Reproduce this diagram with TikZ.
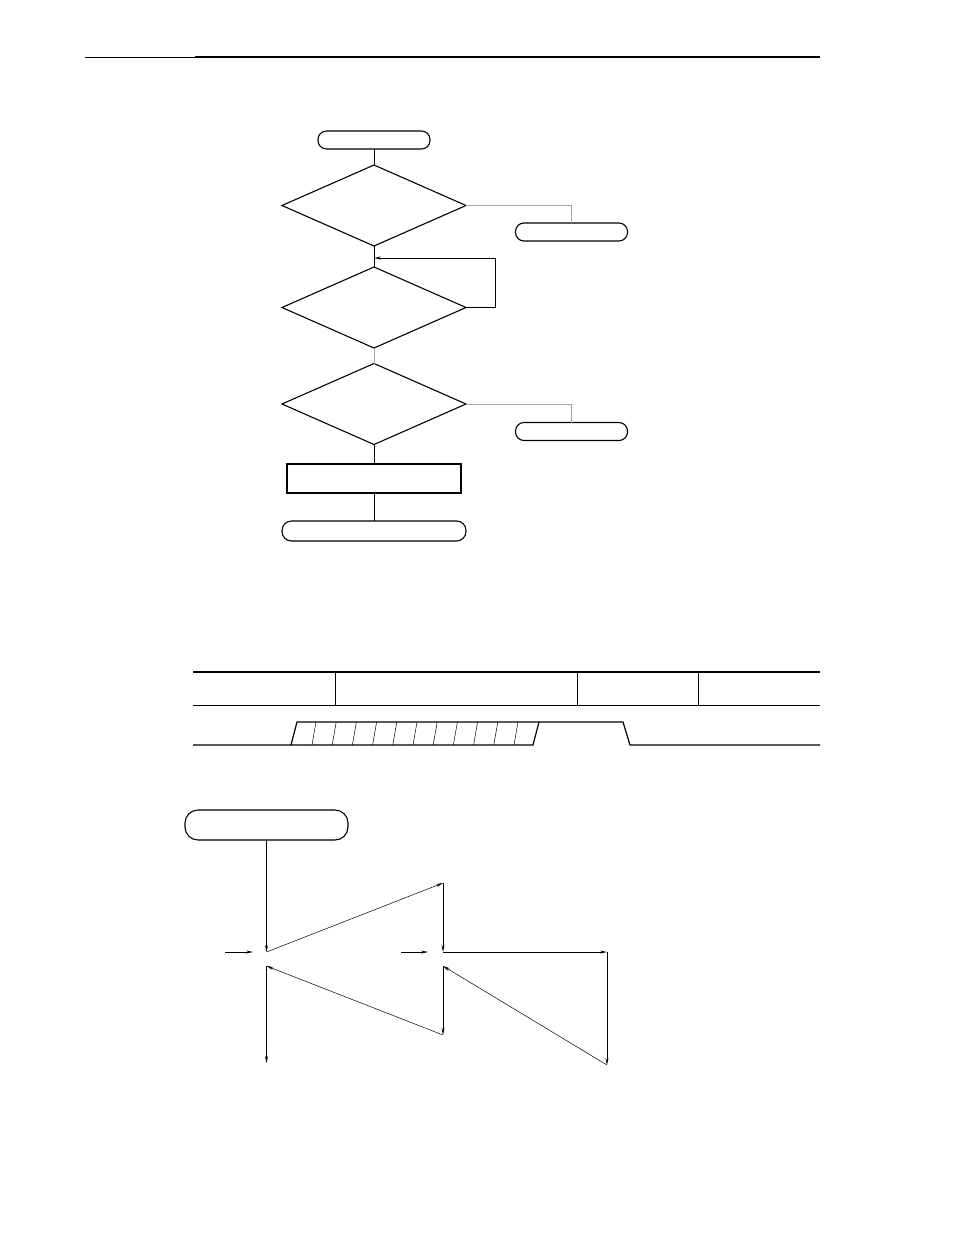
\documentclass[tikz,border=0pt]{standalone}
\usetikzlibrary{shapes.geometric, arrows.meta, positioning}

\begin{document}
\begin{tikzpicture}[x=1pt, y=-1pt,
        terminal/.style={rectangle, draw, line width=1.1pt, rounded corners=8.5pt, minimum width=112pt, minimum height=18pt, inner sep=0pt, outer sep=0pt},
        decision/.style={diamond, draw, line width=1.1pt, minimum width=184pt, minimum height=81pt, inner sep=0pt, outer sep=0pt},
        process/.style={rectangle, draw, line width=1.7pt, minimum width=174pt, minimum height=29pt, inner sep=0pt, outer sep=0pt},
        link/.style={line width=0.9pt},
        greylink/.style={line width=0.9pt, gray!70},
        arrow/.style={-{Stealth[length=7pt, width=3pt]}, line width=0.8pt},
        thinarrow/.style={-{Stealth[length=7pt, width=3pt]}, line width=0.5pt},
        rule/.style={line width=1.6pt},
        wave/.style={line width=1.2pt}
    ]
        \useasboundingbox (0,0) rectangle (954,1235);

        % Page rule
        \draw[line width=1pt] (85,57) -- (195,57);
        \draw[rule] (195,57) -- (820,57);

        % Flowchart blocks
        \node[terminal] (start) at (374,140) {};
        \node[decision] (check1) at (374,205.5) {};
        \node[terminal] (exit1) at (571.5,232) {};
        \node[decision] (check2) at (374,307.5) {};
        \node[decision] (check3) at (374,404) {};
        \node[terminal] (exit2) at (571.5,431.5) {};
        \node[process] (proc) at (374,478.5) {};
        \node[terminal, minimum width=184pt, minimum height=20pt, rounded corners=9.5pt] (done) at (374,531) {};

        % Loop points
        \coordinate (loop) at (495,258);
        \coordinate (back) at (374,258);

        % Flowchart connectors
        \draw[link] (start) -- (check1);
        \draw[greylink] (check1.east) -| (exit1.north);
        \draw[link] (check1.south) -- (check2.north);
        \draw[arrow] (check2.east) -| (loop) -- (back);
        \draw[greylink] (check2.south) -- (check3.north);
        \draw[greylink] (check3.east) -| (exit2.north);
        \draw[link] (check3.south) -- (proc.north);
        \draw[link] (proc.south) -- (done.north);

        % Timing frame
        \draw[rule] (193,672) -- (820,672);
        \draw[line width=0.8pt] (193,705) -- (820,705);
        \foreach \x in {335,577,698}
            \draw[line width=0.9pt] (\x,672) -- (\x,705);

        % Timing wave
        \draw[wave] (193,745) -- (291,745) -- (297,722) -- (623,722) -- (630,745) -- (820,745);
        \draw[wave] (291,745) -- (533,745) -- (539,722);
        \foreach \i in {0,...,10}
            \draw[line width=0.5pt] ({316+20.2*\i},722) -- ({312+20.2*\i},745);

        % Sequence diagram
        \node[terminal, minimum width=163pt, minimum height=30pt, rounded corners=13pt] (entry) at (266.5,825) {};

        \coordinate (a1) at (266.5,952);
        \coordinate (a2) at (266.5,966);
        \coordinate (a3) at (266.5,1063);
        \coordinate (b0) at (443,883);
        \coordinate (b1) at (443,952);
        \coordinate (b2) at (443,966);
        \coordinate (b3) at (443,1035);
        \coordinate (c1) at (607,952);
        \coordinate (c2) at (607,1065);
        \coordinate (in1) at (225,952);
        \coordinate (in1e) at (253,952);
        \coordinate (in2) at (401,952);
        \coordinate (in2e) at (428,952);

        \draw[arrow] (entry.south) -- (a1);
        \draw[thinarrow] (a1) -- (b0);
        \draw[arrow] (b0) -- (b1);
        \draw[arrow] (b1) -- (c1);
        \draw[arrow] (c1) -- (c2);
        \draw[thinarrow] (c2) -- (b2);
        \draw[arrow] (b2) -- (b3);
        \draw[thinarrow] (b3) -- (a2);
        \draw[arrow] (a2) -- (a3);
        \draw[arrow] (in1) -- (in1e);
        \draw[arrow] (in2) -- (in2e);

    \end{tikzpicture}
\end{document}
